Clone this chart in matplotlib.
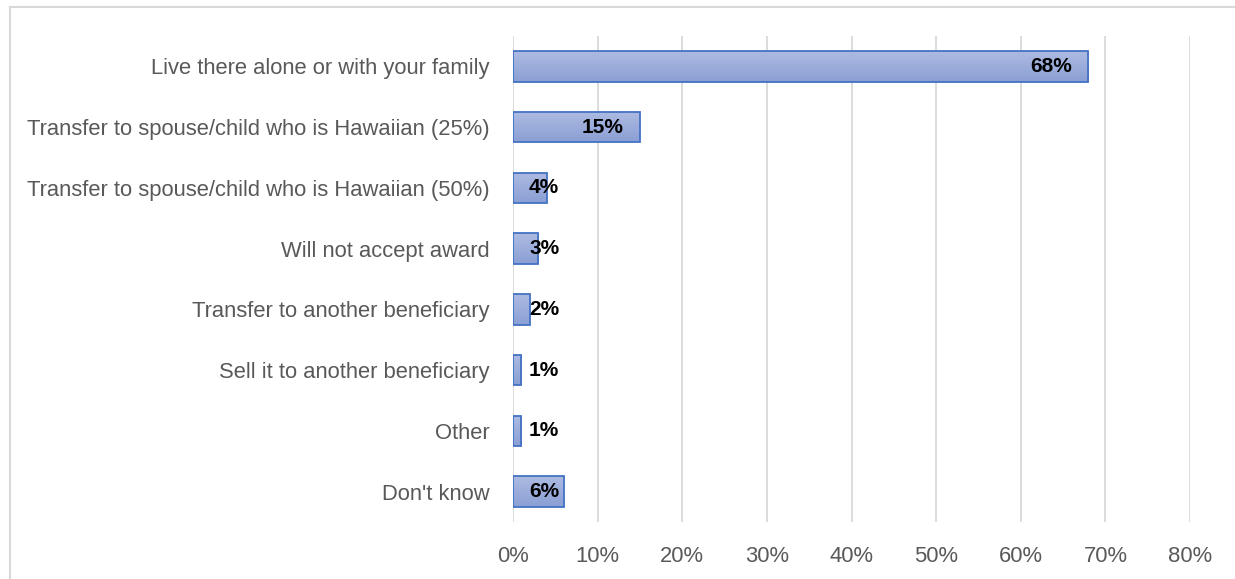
import matplotlib.pyplot as plt
import numpy as np
from matplotlib.lines import Line2D
from matplotlib.colors import LinearSegmentedColormap

plt.rcParams['font.family'] = ['Liberation Sans', 'DejaVu Sans']

categories = [
    "Live there alone or with your family",
    "Transfer to spouse/child who is Hawaiian (25%)",
    "Transfer to spouse/child who is Hawaiian (50%)",
    "Will not accept award",
    "Transfer to another beneficiary",
    "Sell it to another beneficiary",
    "Other",
    "Don't know",
]
values = [68, 15, 4, 3, 2, 1, 1, 6]
xticks = [0, 10, 20, 30, 40, 50, 60, 70, 80]

fig = plt.figure(figsize=(12.35, 5.79), dpi=100)
ax = fig.add_axes([0.4154, 0.0984, 0.5482, 0.8394])

ypos = np.arange(len(categories))
bar_h = 0.5
grad = LinearSegmentedColormap.from_list("barfill", ["#adbbe2", "#8a9fd4"])

bars = ax.barh(ypos, values, height=bar_h, color="none",
               edgecolor="#4472c4", linewidth=1.3, zorder=3)

# vertical gradient inside each bar
for b in bars:
    x0, y0 = b.get_x(), b.get_y()
    w, h = b.get_width(), b.get_height()
    img = ax.imshow(np.linspace(0, 1, 64).reshape(-1, 1), cmap=grad,
                    extent=[x0, x0 + w, y0 + h, y0], aspect="auto",
                    zorder=2, interpolation="bilinear")
    img.set_clip_path(b)

for y, v in zip(ypos, values):
    if v >= 10:
        ax.text(v - 2.0, y, f"{v}%", ha="right", va="center",
                fontsize=15, fontweight="bold", color="black", zorder=4)
    else:
        ax.text(1.9, y, f"{v}%", ha="left", va="center",
                fontsize=15, fontweight="bold", color="black", zorder=4)

ax.set_xlim(0, 80)
ax.set_ylim(len(categories) - 0.5, -0.5)
ax.set_xticks(xticks)
ax.set_xticklabels([f"{t}%" for t in xticks])
ax.set_yticks(ypos)
ax.set_yticklabels(categories)
ax.tick_params(axis="both", length=0, labelsize=15.8, colors="#595959")
ax.tick_params(axis="x", pad=17)
ax.tick_params(axis="y", pad=17)
ax.grid(axis="x", color="#d9d9d9", linewidth=1.3, zorder=0)
ax.set_axisbelow(True)
for s in ax.spines.values():
    s.set_visible(False)

# chart frame (top and left edges)
fig.add_artist(Line2D([10 / 1235, 1], [1 - 7 / 579, 1 - 7 / 579],
                      color="#d9d9d9", linewidth=1.5, transform=fig.transFigure))
fig.add_artist(Line2D([10 / 1235, 10 / 1235], [0, 1 - 7 / 579],
                      color="#d9d9d9", linewidth=1.5, transform=fig.transFigure))

fig.savefig("out.png", dpi=100)
